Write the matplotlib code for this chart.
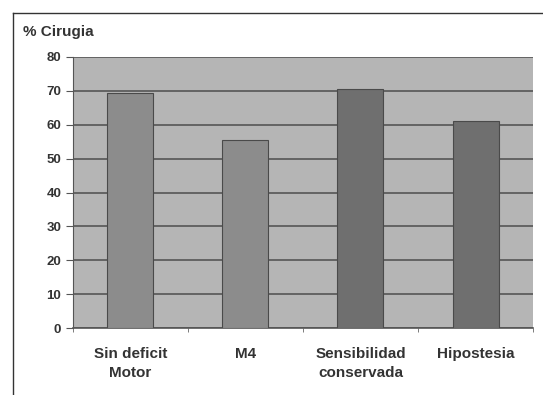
import matplotlib.pyplot as plt
from matplotlib.lines import Line2D

plt.rc('font', family='Liberation Sans')

# datos
categorias = ['Sin deficit\nMotor', 'M4', 'Sensibilidad\nconservada', 'Hipostesia']
porcentajes = [69.3, 55.5, 70.5, 61.1]
colores = ['#8c8c8c', '#8c8c8c', '#6f6f6f', '#6f6f6f']

fig = plt.figure(figsize=(5.43, 3.95), dpi=100)
ax = fig.add_axes([0.1344, 0.1696, 0.8472, 0.6861])
ax.set_facecolor('#b5b5b5')

x = range(len(categorias))
ax.bar(x, porcentajes, width=0.4, color=colores, edgecolor='#4a4a4a', linewidth=0.8, zorder=3)

ax.set_ylim(0, 80)
ax.set_xlim(-0.5, len(categorias) - 0.5)
ax.set_yticks(range(0, 81, 10))
ax.yaxis.grid(True, color='#555555', linewidth=1.2, zorder=1)
ax.set_axisbelow(True)

ax.set_xticks(x)
ax.set_xticklabels(categorias, fontsize=11, fontweight='bold', color='#333333',
                   linespacing=1.45)
ax.tick_params(axis='x', length=0, pad=14)
ax.set_xticks([i + 0.5 for i in range(-1, len(categorias))], minor=True)
ax.tick_params(axis='x', which='minor', length=3, color='#666666')
ax.tick_params(axis='y', labelsize=9.5, length=5, color='#555555', labelcolor='#333333')
for lbl in ax.get_yticklabels():
    lbl.set_fontweight('bold')

for s in ['top', 'right']:
    ax.spines[s].set_visible(False)
ax.spines['left'].set_color('#555555')
ax.spines['bottom'].set_color('#555555')
ax.spines['bottom'].set_linewidth(1.2)

fig.text(23 / 543, 1 - 32 / 395, '% Cirugia', fontsize=11, fontweight='bold',
         color='#333333', va='center')

# marco exterior
fig.add_artist(Line2D([13 / 543, 1], [1 - 13 / 395, 1 - 13 / 395], color='#333333', lw=1))
fig.add_artist(Line2D([13 / 543, 13 / 543], [0, 1 - 13 / 395], color='#333333', lw=1))

fig.savefig('out.png', dpi=100)
